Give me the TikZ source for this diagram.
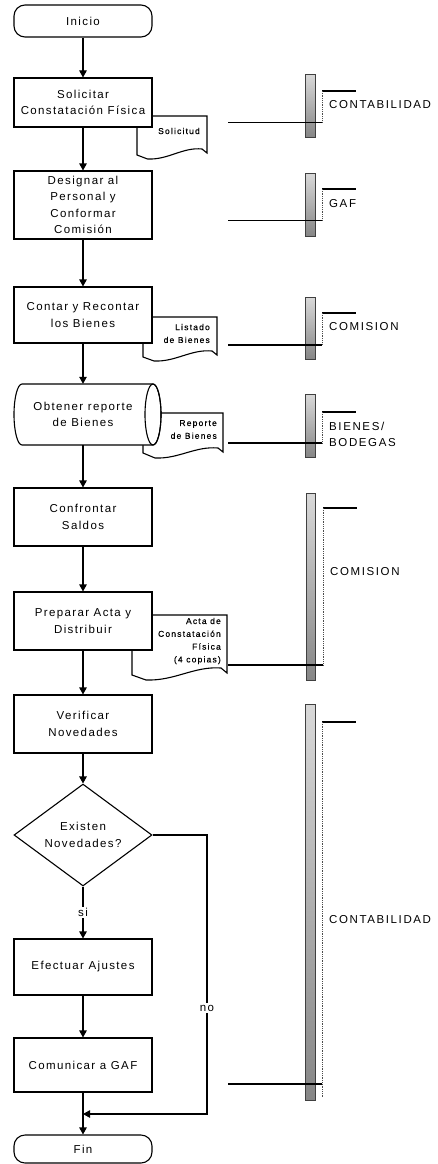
\documentclass[tikz,border=0pt]{standalone}
\usepackage{fontspec}
\setmainfont{Liberation Sans}[LetterSpace=12]
\newfontfamily\docfamily{Liberation Sans}[LetterSpace=14, FakeBold=0.5]
\newfontfamily\lanefamily{Liberation Sans}[LetterSpace=14]
\usetikzlibrary{arrows.meta,shapes.geometric}
\newcommand\boxfont{\fontsize{11.5pt}{16.5pt}\selectfont}
\newcommand\docfont{\docfamily\fontsize{8.5pt}{12.8pt}\selectfont}
\newcommand\lanefont{\lanefamily\fontsize{11.5pt}{16.5pt}\selectfont}
\begin{document}
\begin{tikzpicture}[x=1pt,y=-1pt,
  proc/.style={draw, line width=1.1pt, fill=white, minimum width=138pt,
    inner sep=0pt, align=center, font=\boxfont},
  term/.style={proc, rounded corners=11pt},
  decision/.style={draw, line width=1.1pt, fill=white, shape=diamond,
    minimum width=138pt, minimum height=94pt, inner sep=0pt, align=center, font=\boxfont},
  arr/.style={line width=1.1pt, -{Triangle[width=7.5pt,length=7pt]}},
  docline/.style={draw, line width=1.1pt, fill=white},
  doctext/.style={inner sep=0pt, align=right, anchor=east, font=\docfont},
  bar/.style={draw=gray!50!black, line width=0.8pt, top color=gray!30, bottom color=gray!95},
  link/.style={line width=1.1pt},
  bracket/.style={line width=1.1pt},
  dots/.style={densely dotted, line width=0.8pt, gray!60!black},
  lanelbl/.style={anchor=west, inner sep=0pt, align=left, font=\lanefont},
  edgelbl/.style={fill=white, inner sep=1.5pt, font=\boxfont}]

\fill[white] (0,0) rectangle (437,1164);
\useasboundingbox (0,0) rectangle (437,1164);

% documents (drawn first, the process boxes overlap them)
\path[docline] (137,116) -- (207,116) -- (207,153) -- (202,149)
  .. controls (182.5,147) and (168.5,160) .. (147.5,159) -- (137,155) -- cycle;
\node[doctext] (dsol) at (200,131) {Solicitud};

\path[docline] (143,317) -- (217,317) -- (217,355) -- (212,351)
  .. controls (191,349) and (176,362) .. (154,361) -- (143,357) -- cycle;
\node[doctext] (dlis) at (210,333.5) {Listado\\de Bienes};

\path[docline] (143,413) -- (223,413) -- (223,452) -- (218,448)
  .. controls (195,446) and (179,459) .. (155,458) -- (143,453) -- cycle;
\node[doctext] (drep) at (217,429.5) {Reporte\\de Bienes};

\path[docline] (132,615) -- (227,615) -- (227,673) -- (221,668)
  .. controls (194,666) and (175,681) .. (146,680) -- (132,675) -- cycle;
\node[doctext] (dact) at (221,641) {Acta de\\Constatación\\Física\\(4 copias)};

% flow
\node[term, minimum height=32pt] (ini) at (83,21) {Inicio};
\node[proc, minimum height=49pt] (sol) at (83,102.5) {Solicitar\\Constatación Física};
\node[proc, minimum height=68pt] (des) at (83,205) {Designar al\\Personal y\\Conformar\\Comisión};
\node[proc, minimum height=56pt] (con) at (83,315) {Contar y Recontar\\los Bienes};

% stored data: horizontal cylinder
\path[draw, line width=1.1pt, fill=white] (22,384) -- (153,384)
  arc[start angle=90, end angle=-90, x radius=8pt, y radius=30.5pt]
  -- (22,445)
  arc[start angle=270, end angle=90, x radius=8pt, y radius=30.5pt] -- cycle;
\draw[line width=1.1pt] (153,414.5) ellipse [x radius=8pt, y radius=30.5pt];
\node[minimum width=138pt, minimum height=61pt, inner sep=0pt, align=center, font=\boxfont]
  (obt) at (83,414.5) {Obtener reporte\\de Bienes};

\node[proc, minimum height=58pt] (cfr) at (83,517) {Confrontar\\Saldos};
\node[proc, minimum height=58pt] (pre) at (83,621) {Preparar Acta y\\Distribuir};
\node[proc, minimum height=58pt] (ver) at (83,724) {Verificar\\Novedades};
\node[decision] (dec) at (83,835) {Existen\\Novedades?};
\node[proc, minimum height=56pt] (efe) at (83,967) {Efectuar Ajustes};
\node[proc, minimum height=54pt] (com) at (83,1065) {Comunicar a GAF};
\node[term, minimum height=28pt] (fin) at (83,1149) {Fin};

\draw[arr] (ini) -- (sol);
\draw[arr] (sol) -- (des);
\draw[arr] (des) -- (con);
\draw[arr] (con) -- (obt);
\draw[arr] (obt) -- (cfr);
\draw[arr] (cfr) -- (pre);
\draw[arr] (pre) -- (ver);
\draw[arr] (ver) -- (dec);
\draw[arr] (dec) -- node[edgelbl] {si} (efe);
\draw[arr] (efe) -- (com);
\draw[arr] (com) -- (fin);

\coordinate (noR) at (207,835);
\coordinate (noB) at (207,1114);
\coordinate (join) at (83,1114);
\draw[arr] (dec.east) -- (noR) -- node[edgelbl, pos=0.62] {no} (noB) -- (join);

% responsibility lanes
\draw[bar] (305,74) rectangle (315,137);
\draw[bracket] (322,91) -- (356,91);
\draw[dots] (322,91) -- (322,122.7);
\coordinate (l1a) at (228,122.7); \coordinate (l1b) at (322,122.7);
\draw[link] (l1a) -- (l1b);
\node[lanelbl] (lab1) at (329,105) {CONTABILIDAD};

\draw[bar] (305,173) rectangle (315,236);
\draw[bracket] (322,189) -- (356,189);
\draw[dots] (322,189) -- (322,220.7);
\coordinate (l2a) at (228,220.7); \coordinate (l2b) at (322,220.7);
\draw[link] (l2a) -- (l2b);
\node[lanelbl] (lab2) at (329,204) {GAF};

\draw[bar] (305,297) rectangle (315,359);
\draw[bracket] (322,313) -- (356,313);
\draw[dots] (322,313) -- (322,345);
\coordinate (l3a) at (228,345); \coordinate (l3b) at (322,345);
\draw[link] (l3a) -- (l3b);
\node[lanelbl] (lab3) at (329,327) {COMISION};

\draw[bar] (305,394) rectangle (315,457);
\draw[bracket] (322,412) -- (356,412);
\draw[dots] (322,412) -- (322,443);
\coordinate (l4a) at (228,443); \coordinate (l4b) at (322,443);
\draw[link] (l4a) -- (l4b);
\node[lanelbl] (lab4) at (329,434.5) {BIENES/\\BODEGAS};

\draw[bar] (306,493) rectangle (315,680);
\draw[bracket] (323,508) -- (357,508);
\draw[dots] (323,508) -- (323,665);
\coordinate (l5a) at (228,665); \coordinate (l5b) at (323,665);
\draw[link] (l5a) -- (l5b);
\node[lanelbl] (lab5) at (330,572) {COMISION};

\draw[bar] (305,704) rectangle (315,1100);
\draw[bracket] (322,722) -- (356,722);
\draw[dots] (322,722) -- (322,1097);
\coordinate (l6a) at (228,1084); \coordinate (l6b) at (322,1084);
\draw[link] (l6a) -- (l6b);
\node[lanelbl] (lab6) at (329,920) {CONTABILIDAD};
\end{tikzpicture}
\end{document}
